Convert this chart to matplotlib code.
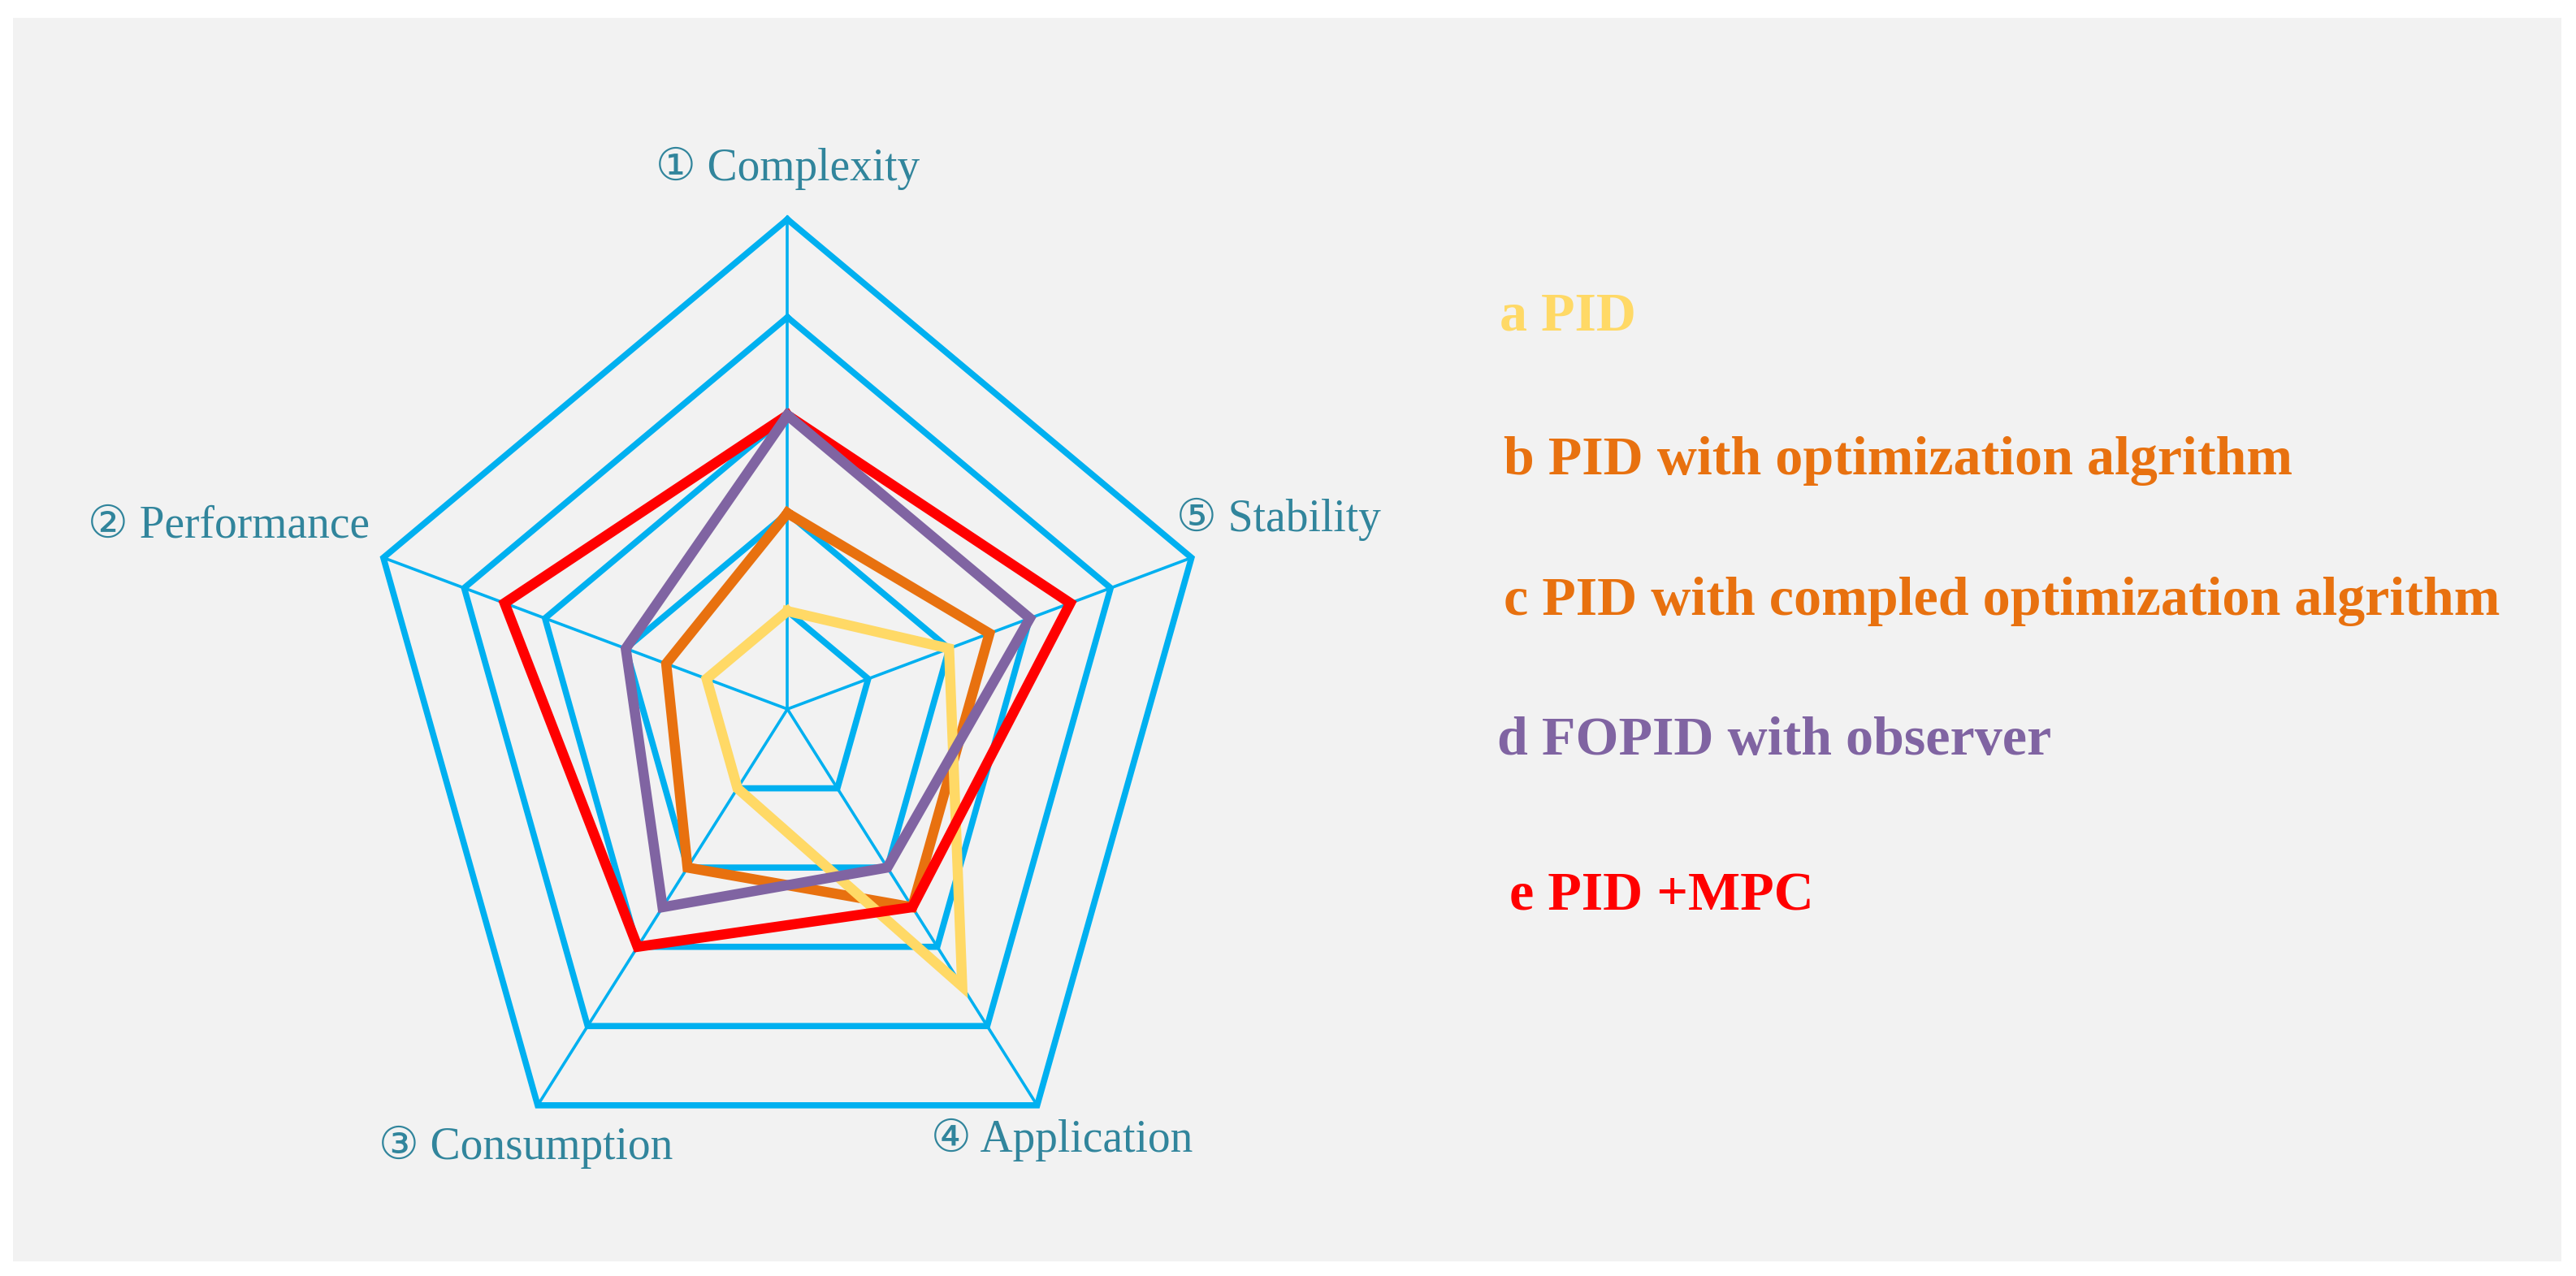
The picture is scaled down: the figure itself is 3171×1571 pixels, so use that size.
import numpy as np
import matplotlib
matplotlib.use('Agg')
import matplotlib.pyplot as plt
from matplotlib.patches import Rectangle

# axes of the radar, counter-clockwise from the top
categories = ['① Complexity', '② Performance', '③ Consumption',
              '④ Application', '⑤ Stability']
levels = [1, 2, 3, 4, 5]

series_names = ['a PID', 'b PID with optimization algrithm',
                'c PID with compled optimization algrithm',
                'd FOPID with observer', 'e PID +MPC']
pid = [1, 1, 1, 3.5, 2]
pid_opt = [2, 1.5, 2, 2.5, 2.5]
fopid_obs = [3, 2, 2.5, 2, 3]
pid_mpc = [3, 3.5, 3, 2.5, 3.5]

c_grid = '#00B0F0'
c_label = '#31859C'
c_yellow = '#FFD966'
c_orange = '#E8710F'
c_purple = '#8064A2'
c_red = '#FF0000'
legend_colors = [c_yellow, c_orange, c_orange, c_purple, c_red]

W, H, DPI = 3171, 1571, 100
fig = plt.figure(figsize=(W / DPI, H / DPI), dpi=DPI, facecolor='white')
fig.patches.append(Rectangle((16 / W, 18 / H), (3153 - 16) / W, (1551 - 20) / H,
                             transform=fig.transFigure, facecolor='#F2F2F2',
                             edgecolor='none', zorder=-10))

# radar centre in pixels and pixels per unit (chart is squeezed horizontally)
cx, cy = 969.3, 873.0
ux, uy = 104.6, 120.6
L = 7.0
ax = fig.add_axes([(cx - L * ux) / W, (H - (cy + L * uy)) / H,
                   2 * L * ux / W, 2 * L * uy / H])
ax.set_xlim(-L, L)
ax.set_ylim(-L, L)
ax.axis('off')

angles = np.deg2rad(90 + 72 * np.arange(len(categories)))


def to_xy(vals):
    vals = np.asarray(vals, dtype=float)
    x = vals * np.cos(angles)
    y = vals * np.sin(angles)
    return np.append(x, x[0]), np.append(y, y[0])


# grid
for a in angles:
    ax.plot([0, levels[-1] * np.cos(a)], [0, levels[-1] * np.sin(a)],
            color=c_grid, lw=2.6, zorder=1)
for lv in levels:
    gx, gy = to_xy([lv] * len(categories))
    ax.plot(gx, gy, color=c_grid, lw=5.5, solid_joinstyle='miter', zorder=1)

# series
for vals, col in [(pid_opt, c_orange), (pid, c_yellow),
                  (pid_mpc, c_red), (fopid_obs, c_purple)]:
    sx, sy = to_xy(vals)
    ax.plot(sx, sy, color=col, lw=9, solid_joinstyle='miter', zorder=3)

# axis labels
label_pos = [(0.0, 5.52, 'center'), (-4.92, 1.87, 'right'),
             (-3.08, -4.47, 'center'), (3.23, -4.40, 'center'),
             (4.58, 1.94, 'left')]
for lab, (lx, ly, ha) in zip(categories, label_pos):
    ax.text(lx, ly, lab, ha=ha, va='center', fontsize=40, color=c_label,
            family=['Liberation Serif', 'DejaVu Sans'], clip_on=False)

# legend as coloured text
legend_px = [(1846, 390), (1851, 567), (1851, 740), (1843, 913), (1858, 1104)]
for name, col, (px, py) in zip(series_names, legend_colors, legend_px):
    fig.text(px / W, 1 - py / H, name, ha='left', va='center', fontsize=49,
             fontweight='bold', color=col, family=['Liberation Serif'])

fig.savefig('out.png', dpi=DPI, facecolor='white')
